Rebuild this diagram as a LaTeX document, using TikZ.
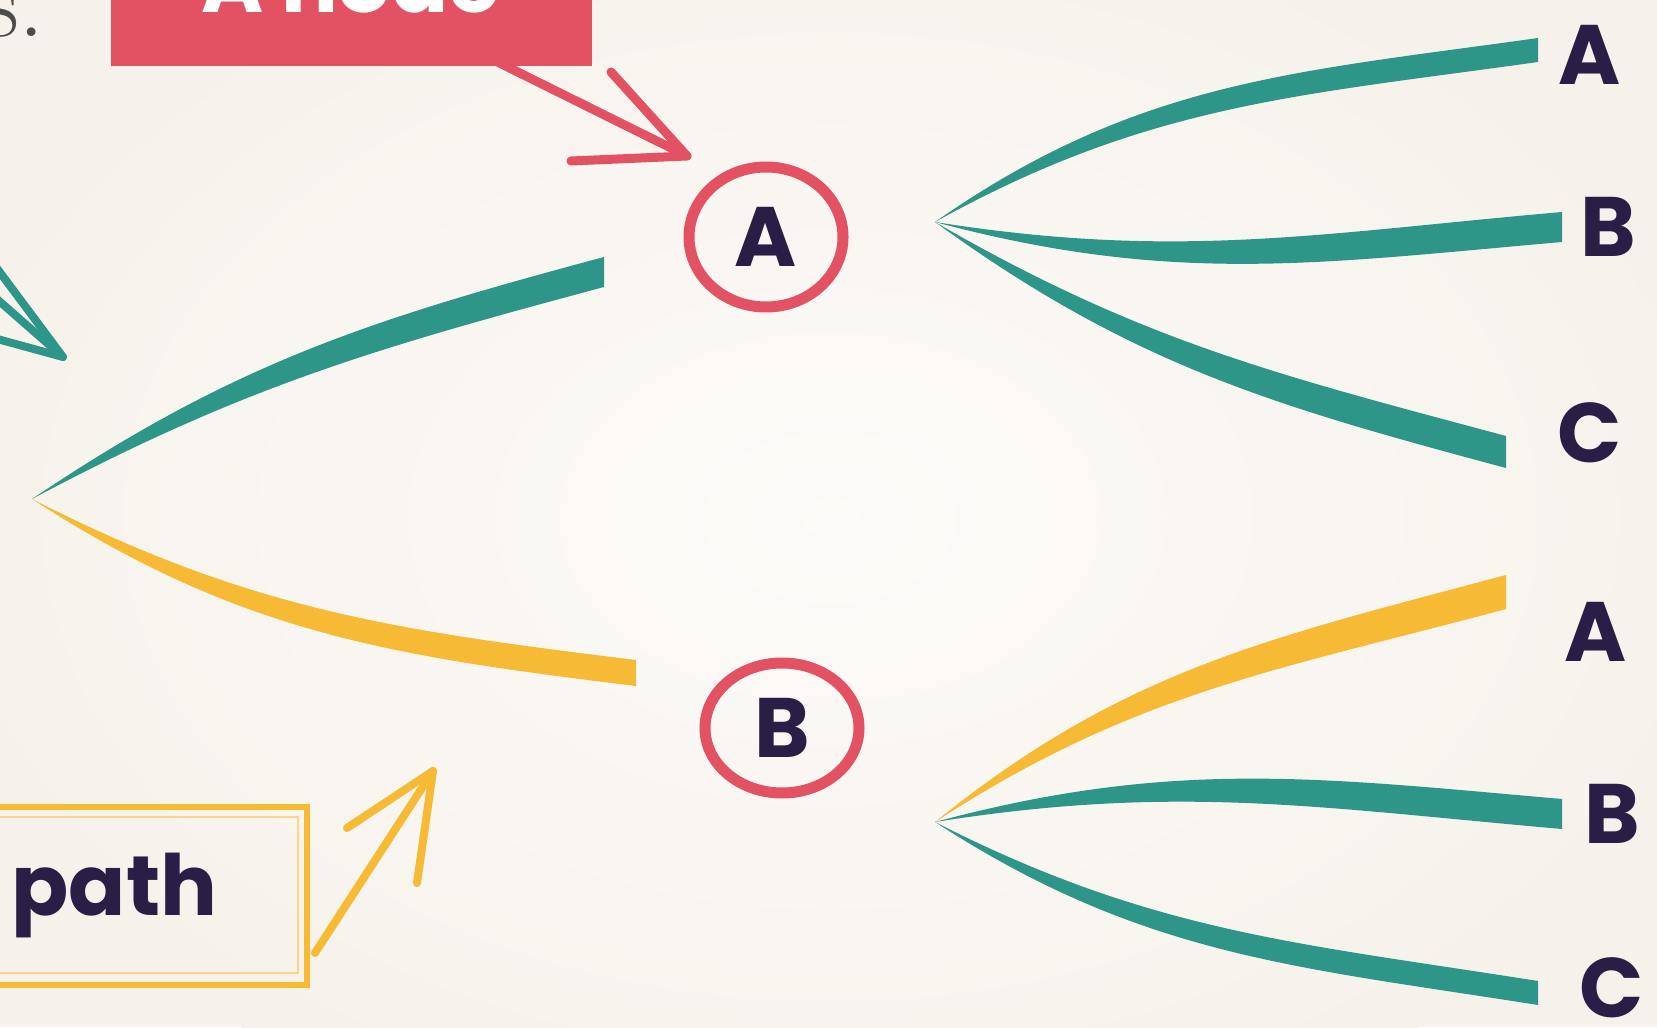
\documentclass[tikz,border=0pt]{standalone}
\usepackage{fontspec}
\usepackage{tikz}
\usetikzlibrary{
  shapes.geometric,
  calc,
  positioning
}
\newfontfamily\handfont{Poppins}
\definecolor{PaperCream}{RGB}{246,241,234}
\definecolor{BranchTeal}{RGB}{46,150,136}
\definecolor{BranchGold}{RGB}{246,186,52}
\definecolor{NoteRed}{RGB}{226,82,98}
\definecolor{InkNavy}{RGB}{40,30,70}
\tikzset{
  outcome/.style={font=\handfont\bfseries\fontsize{24}{28}\selectfont, text=InkNavy, inner sep=0pt},
  event/.style={ellipse, draw=NoteRed, line width=0.11cm, inner sep=0pt, minimum width=1.54cm,
    font=\handfont\bfseries\fontsize{24}{28}\selectfont, text=InkNavy},
  pen/.style={line width=0.08cm, line cap=round, line join=round}
}

\begin{document}
\begin{tikzpicture}
\fill[PaperCream] (0,0) rectangle (16.57,10.27);
\clip (0,0) rectangle (16.57,10.27);
\shade[inner color=white!70!PaperCream, outer color=PaperCream] (8.3,5.1) ellipse (9.5 and 6.5);

% roots and branch ends
\coordinate (rootL) at (0.32,5.28);
\coordinate (rootA) at (9.35,8.05);
\coordinate (rootB) at (9.35,2.05);
\coordinate (endLA) at (6.04,7.55);
\coordinate (endLB) at (6.36,3.54);
\coordinate (endAA) at (15.38,9.77);
\coordinate (endAB) at (15.62,8.00);
\coordinate (endAC) at (15.06,5.75);
\coordinate (endBA) at (15.06,4.35);
\coordinate (endBB) at (15.62,2.13);
\coordinate (endBC) at (15.38,0.34);

% first split
\fill[BranchTeal] (rootL) to[out=34,in=195] ($(endLA)+(0,0.15)$) -- ($(endLA)-(0,0.15)$) to[out=195,in=28] (rootL) -- cycle;
\fill[BranchGold] (rootL) to[out=-27,in=173] ($(endLB)+(0,0.13)$) -- ($(endLB)-(0,0.13)$) to[out=173,in=-33] (rootL) -- cycle;

% after A
\fill[BranchTeal] (rootA) to[out=35,in=188] ($(endAA)+(0,0.12)$) -- ($(endAA)-(0,0.12)$) to[out=188,in=29] (rootA) -- cycle;
\fill[BranchTeal] (rootA) to[out=-9,in=185] ($(endAB)+(0,0.15)$) -- ($(endAB)-(0,0.15)$) to[out=185,in=-15] (rootA) -- cycle;
\fill[BranchTeal] (rootA) to[out=-30,in=165] ($(endAC)+(0,0.16)$) -- ($(endAC)-(0,0.16)$) to[out=165,in=-36] (rootA) -- cycle;

% after B
\fill[BranchTeal] (rootB) to[out=15,in=175] ($(endBB)+(0,0.15)$) -- ($(endBB)-(0,0.15)$) to[out=175,in=9] (rootB) -- cycle;
\fill[BranchTeal] (rootB) to[out=-27,in=171] ($(endBC)+(0,0.12)$) -- ($(endBC)-(0,0.12)$) to[out=171,in=-33] (rootB) -- cycle;
\fill[BranchGold] (rootB) to[out=39,in=195] ($(endBA)+(0,0.17)$) -- ($(endBA)-(0,0.17)$) to[out=195,in=33] (rootB) -- cycle;

% outcomes
\node[outcome] (lblAA) at (15.90,9.72) {A};
\node[outcome] (lblAB) at (16.08,8.00) {B};
\node[outcome] (lblAC) at (15.90,5.94) {C};
\node[outcome] (lblBA) at (15.96,3.95) {A};
\node[outcome] (lblBB) at (16.12,2.13) {B};
\node[outcome] (lblBC) at (16.12,0.39) {C};

% events
\node[event, minimum height=1.40cm] (nodeA) at (7.66,7.90) {A};
\node[event, minimum height=1.30cm] (nodeB) at (7.82,2.99) {B};

% callouts
\node[font=\fontsize{30}{34}\selectfont, text=black!70, anchor=base east, inner sep=0pt] (captionEnd) at (0.46,9.90) {s.};
\node[fill=NoteRed, text=white, minimum width=4.81cm, inner sep=0pt, text height=1cm, text depth=0.53cm,
  anchor=base, font=\handfont\bfseries\fontsize{24}{28}\selectfont] (noteNode) at (3.51,10.14) {A node};
\coordinate (redTip) at (6.87,8.71);
\draw[NoteRed, pen, line width=0.09cm] ($(noteNode.south)+(1.46,0.05)$) -- (redTip);
\draw[NoteRed, pen, line width=0.09cm] (5.71,8.66) -- (redTip) -- (6.11,9.55);

\node[draw=BranchGold, line width=0.06cm, minimum width=4.65cm, minimum height=1.78cm, inner sep=0pt,
  font=\handfont\bfseries\fontsize{24}{28}\selectfont, text=InkNavy] (pathNote) at (0.745,1.31) {A path};
\draw[BranchGold!60, line width=0.02cm] ($(pathNote.south west)+(0,0.15)$) rectangle ($(pathNote.north east)+(-0.12,-0.13)$);
\coordinate (goldTip) at (4.33,2.56);
\draw[BranchGold, pen] ($(pathNote.south east)+(0.05,0.35)$) -- (goldTip);
\draw[BranchGold, pen] (3.47,1.99) -- (goldTip) -- (4.17,1.44);

\coordinate (tealTip) at (0.63,6.70);
\draw[BranchTeal, pen] (-0.1,7.34) -- (tealTip);
\draw[BranchTeal, pen] (-0.1,7.68) -- (tealTip) -- (-0.1,6.90);
\end{tikzpicture}
\end{document}
